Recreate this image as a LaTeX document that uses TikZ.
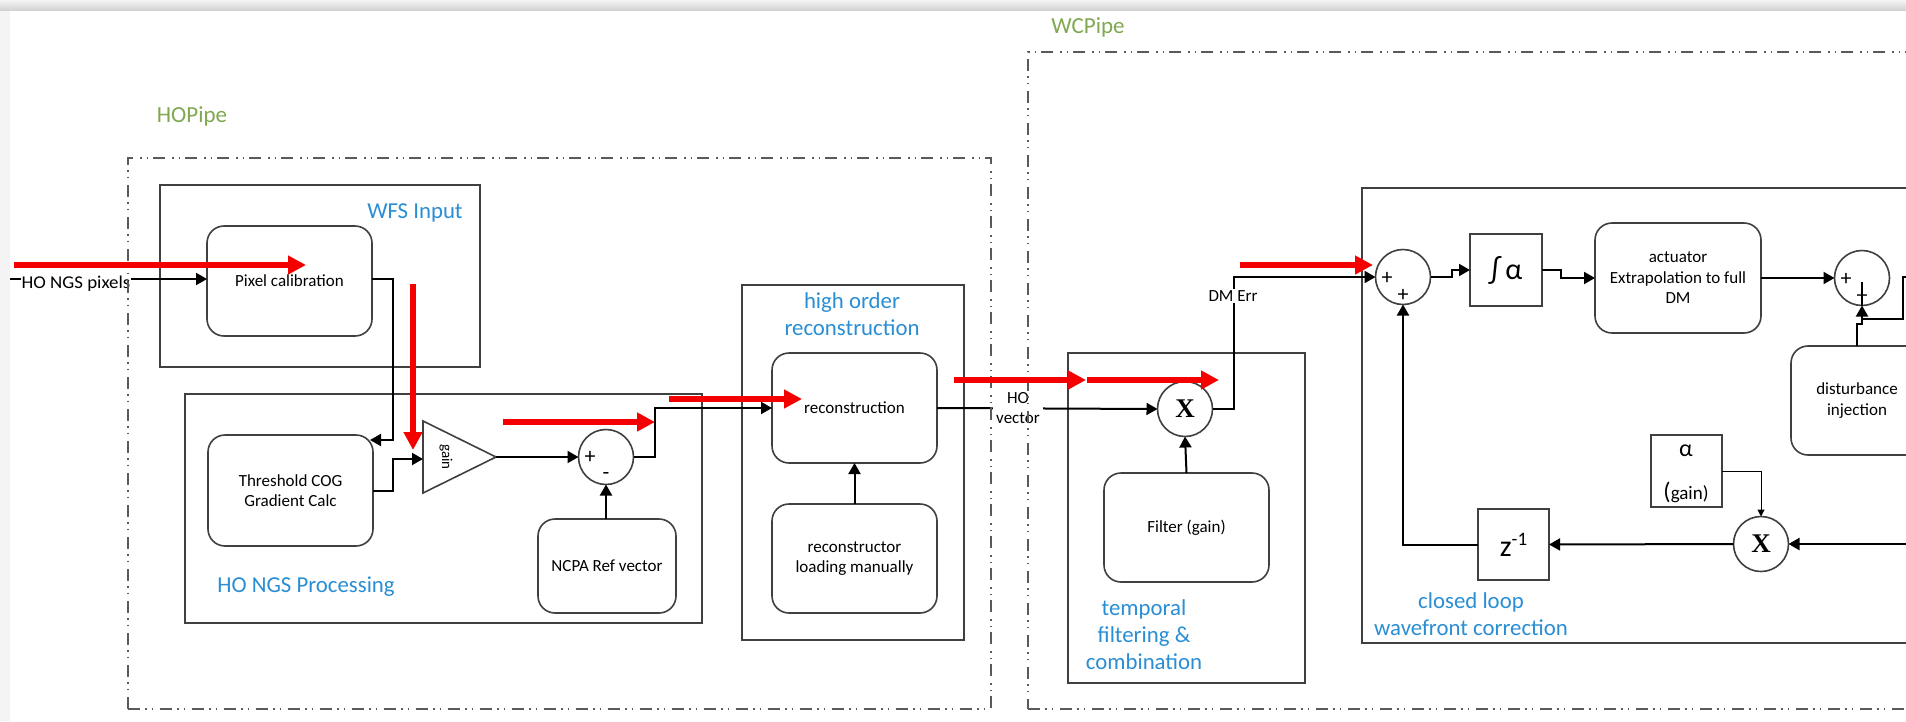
\documentclass[tikz,border=0pt]{standalone}
\usepackage{fontspec}
\setmainfont{Carlito}
\newfontfamily\timesfont{Liberation Serif}
\usetikzlibrary{arrows.meta,calc}
\definecolor{ttlblue}{RGB}{41,142,212}
\definecolor{pipegreen}{RGB}{128,168,80}
\definecolor{boxgray}{RGB}{64,64,64}
\definecolor{flowred}{RGB}{245,0,0}
\definecolor{pipegray}{RGB}{90,90,90}
\begin{document}
\begin{tikzpicture}[x=1pt,y=-1pt,
  every node/.style={inner sep=0pt, outer sep=0pt},
  frame/.style={draw=boxgray, line width=1.6pt},
  block/.style={draw=boxgray, line width=1.6pt, rounded corners=17pt, align=center, font=\fontsize{17}{20.5}\selectfont},
  sqblock/.style={draw=boxgray, line width=1.6pt},
  junction/.style={circle, draw=boxgray, line width=1.6pt, minimum size=55pt},
  sign/.style={font=\fontsize{22}{22}\selectfont},
  ttl/.style={font=\fontsize{22.8}{27}\selectfont, text=ttlblue, align=center},
  pipettl/.style={font=\fontsize{23}{27}\selectfont, text=pipegreen},
  pipe/.style={draw=pipegray, line width=1.8pt, dash pattern=on 12pt off 5pt on 1.5pt off 5pt on 1.5pt off 7pt},
  wire/.style={draw=black, line width=2pt, -{Triangle[length=11pt,width=12pt]}},
  plainwire/.style={draw=black, line width=2pt},
  thinwire/.style={draw=black, line width=1pt, -{Triangle[length=7pt,width=7pt]}},
  flow/.style={draw=flowred, line width=5.5pt, -{Triangle[length=18pt,width=18pt]}},
  lbl/.style={font=\fontsize{17}{20.5}\selectfont, align=center, fill=white, inner xsep=3pt, inner ysep=1.5pt},
  mult/.style={font=\timesfont\bfseries\fontsize{27}{27}\selectfont},
]
\useasboundingbox (0,0) rectangle (1906,721);
% page background with its shadowed top and left edges
\fill[white] (0,0) rectangle (1906,721);
\fill[gray!9] (0,0) rectangle (10,721);
\shade[top color=gray!8, bottom color=gray!35] (0,0) rectangle (1906,10);
\begin{scope}
\clip (0,0) rectangle (1906,721);

% ---------- WFS input ----------
\node[frame, minimum width=320pt, minimum height=182pt] (wfs) at (320,276) {};
\node[ttl] (wfsttl) at (415,213) {WFS Input};
\node[block, minimum width=165pt, minimum height=110pt] (pixcal) at (289.5,281) {Pixel calibration};

% ---------- HO NGS processing ----------
\node[frame, minimum width=517pt, minimum height=229pt] (hongs) at (443.5,508.5) {};
\node[ttl] (hongsttl) at (306,587) {HO NGS Processing};
\node[block, minimum width=165pt, minimum height=111pt] (thresh) at (290.5,490.5) {Threshold COG\\Gradient Calc};
\coordinate (gainin) at (423,459);
\coordinate (gainout) at (496,457);
\draw[boxgray, line width=1.6pt] (423,421) -- (gainout) -- (423,493) -- cycle;
\node[font=\fontsize{15}{15}\selectfont, rotate=-90] (gaintxt) at (446,457) {gain};
\node[junction] (sum1) at (606,457) {};
\node[sign] (sum1p) at (590,457) {+};
\node[sign] (sum1m) at (606,476) {-};
\node[block, minimum width=138pt, minimum height=94pt] (ncpa) at (607,566) {NCPA Ref vector};

% ---------- high order reconstruction ----------
\node[frame, minimum width=222pt, minimum height=355pt] (hiorder) at (853,462.5) {};
\node[ttl] (hiorderttl) at (852,314) {high order\\reconstruction};
\node[block, minimum width=165pt, minimum height=110pt] (recon) at (854.5,408) {reconstruction};
\node[block, minimum width=165pt, minimum height=109pt] (loadrec) at (854.5,558.5) {reconstructor\\loading manually};

% ---------- temporal filtering ----------
\node[frame, minimum width=237pt, minimum height=330pt] (temporal) at (1186.5,518) {};
\node[ttl] (temporalttl) at (1144,635) {temporal\\filtering \&\\combination};
\node[junction, mult] (mult1) at (1185,409) {X};
\node[block, minimum width=165pt, minimum height=109pt] (filter) at (1186.5,527.5) {Filter (gain)};

% ---------- closed loop wavefront correction ----------
\node[frame, minimum width=598pt, minimum height=455pt] (closedloop) at (1661,415.5) {};
\node[ttl] (closedloopttl) at (1471,614) {closed loop\\wavefront correction};
\node[junction] (sum2) at (1403,277) {};
\node[sign] (sum2a) at (1387,278) {+};
\node[sign] (sum2b) at (1403,295) {+};
\node[sqblock, minimum size=72pt, font=\fontsize{30}{30}\selectfont] (integ) at (1506,270) {∫\,α};
\node[block, minimum width=166pt, minimum height=110pt] (act) at (1678,278) {actuator\\Extrapolation to full\\DM};
\node[junction] (sum3) at (1862,278) {};
\node[sign] (sum3a) at (1846,279) {+};
\node[sign] (sum3b) at (1862,296) {+};
\node[block, minimum width=132pt, minimum height=109pt] (disturb) at (1857,400.5) {disturbance\\injection};
\node[sqblock, minimum width=71pt, minimum height=72pt] (gainbox) at (1686.5,471) {};
\node[font=\fontsize{24}{24}\selectfont] (gainalpha) at (1686,451) {α};
\node (gainword) at (1686,492) {{\fontsize{24}{24}\selectfont(}{\fontsize{19}{19}\selectfont gain)}};
\node[junction, mult] (mult2) at (1761,544) {X};
\node[sqblock, minimum size=71pt] (zinv) at (1513.5,544.5) {\fontsize{30}{30}\selectfont z\raisebox{11pt}{\fontsize{19}{19}\selectfont -1}};

% ---------- signal flow ----------
\coordinate (pixin) at (10,279);
\coordinate (rightin) at (1910,277);
\coordinate (rjoin) at (1862,319);
\coordinate (fbin) at (1910,544);

\draw[wire] (pixin) -- (pixin -| pixcal.west);
\draw[wire] (pixcal.east |- pixin) -- ++(21,0) |- ([xshift=-3pt,yshift=-5pt]thresh.north east);
\draw[wire] (thresh.east) -- ++(20,0) |- (gainin);
\draw[wire] (gainout) -- (sum1.west);
\draw[wire] (sum1.south |- ncpa.north) -- (sum1.south);
\draw[wire] (sum1.east) -- ++(21,0) |- (recon.west);
\draw[wire] (loadrec.north) -- (recon.south);
\draw[wire] (recon.east) -- (mult1.west);
\draw[wire] (filter.north) -- (mult1.south);
\draw[wire] (mult1.east) -- ++(21,0) |- (sum2.west);
\draw[wire] (sum2.east) -- ++(21,0) |- (integ.west);
\draw[wire] (integ.east) -- ++(19,0) |- (act.west);
\draw[wire] (act.east) -- (sum3.west);
\draw[wire] (disturb.north) -- ++(0,-22) -| (sum3.south);
\draw[plainwire] (rightin) -- ++(-7,0) |- (rjoin);
\draw[line width=1.8pt] (sum3.south) -- ++(0,-24);
\draw[wire] (fbin) -- (mult2.east);
\draw[thinwire] (gainbox.east) -| (mult2.north);
\draw[wire] (mult2.west) -- (zinv.east);
\draw[wire] (zinv.west) -| (sum2.south);

% signal names laid over their wires
\node[lbl, font=\fontsize{18}{20.5}\selectfont, xscale=1.05, inner xsep=1pt] (pixlbl) at (76,284) {HO NGS pixels};
\node[lbl] (holbl) at (1018,408) {HO\\vector};
\node[lbl] (dmlbl) at (1233,296) {DM Err};

% ---------- pipelines ----------
\node[pipe, minimum width=863pt, minimum height=551pt] (hopipe) at (559.5,433.5) {};
\node[pipettl] (hopipettl) at (192,116) {HOPipe};
\node[pipe, minimum width=932pt, minimum height=657pt] (wcpipe) at (1494,380.5) {};
\node[pipettl] (wcpipettl) at (1088,27) {WCPipe};

% ---------- data path markers ----------
\coordinate (r1a) at (14,265);   \coordinate (r1b) at (306,265);
\coordinate (r2a) at (413,284);  \coordinate (r2b) at (413,450);
\coordinate (r3a) at (503,422);  \coordinate (r3b) at (655,422);
\coordinate (r4a) at (669,399);  \coordinate (r4b) at (802,399);
\coordinate (r5a) at (954,380);  \coordinate (r5b) at (1086,380);
\coordinate (r6a) at (1087,380); \coordinate (r6b) at (1219,380);
\coordinate (r7a) at (1240,265); \coordinate (r7b) at (1373,265);
\draw[flow] (r1a) -- (r1b);
\draw[flow] (r2a) -- (r2b);
\draw[flow] (r3a) -- (r3b);
\draw[flow] (r4a) -- (r4b);
\draw[flow] (r5a) -- (r5b);
\draw[flow] (r6a) -- (r6b);
\draw[flow] (r7a) -- (r7b);
\end{scope}
\end{tikzpicture}
\end{document}
